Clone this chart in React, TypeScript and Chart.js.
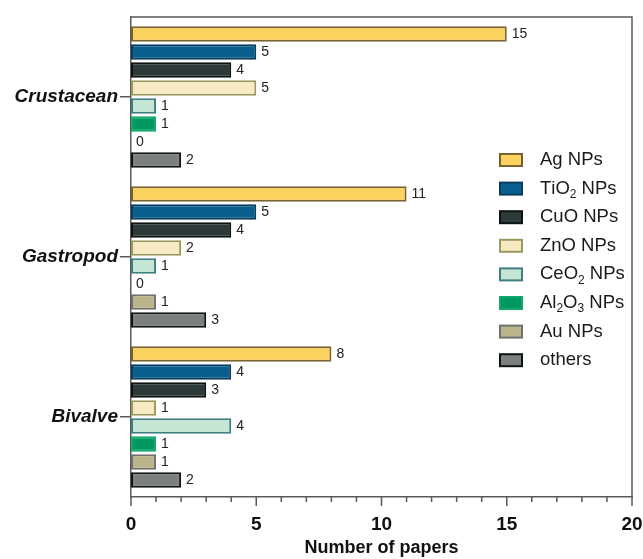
import React, { useEffect, useRef } from 'react';
import { Chart, registerables } from 'chart.js';

Chart.register(...registerables);

const categories = ['Crustacean', 'Gastropod', 'Bivalve'];
const seriesLabels = ['Ag NPs', 'TiO₂ NPs', 'CuO NPs', 'ZnO NPs', 'CeO₂ NPs', 'Al₂O₃ NPs', 'Au NPs', 'others'];

const agNPs = [15, 11, 8];
const tio2NPs = [5, 5, 4];
const cuoNPs = [4, 4, 3];
const znoNPs = [5, 2, 1];
const ceo2NPs = [1, 1, 4];
const al2o3NPs = [1, 0, 1];
const auNPs = [0, 1, 1];
const othersNPs = [2, 3, 2];

const xTickValues = [0, 5, 10, 15, 20];
const axisTitle = 'Number of papers';

const fillColors = ['#FCD25E', '#0B5F8F', '#2D3A3A', '#F7EAC2', '#C6E6D4', '#009862', '#B9B48A', '#7B8081'];
const borderColors = ['#7B6330', '#0A3C5E', '#0E1212', '#9C9A5E', '#3F7E80', '#12A86A', '#707070', '#111414'];

const seriesValues = [agNPs, tio2NPs, cuoNPs, znoNPs, ceo2NPs, al2o3NPs, auNPs, othersNPs];

const FONT = '"Liberation Sans", Arial, Helvetica, sans-serif';
const subMap: Record<string, string> = { '₀': '0', '₁': '1', '₂': '2', '₃': '3', '₄': '4' };

const framePlugin = {
  id: 'frameTicks',
  afterDraw(chart: any) {
    const { ctx, chartArea } = chart;
    const xs = chart.scales.x;
    ctx.save();
    ctx.strokeStyle = '#5a5a5a';
    ctx.lineWidth = 1.5;
    ctx.beginPath();
    ctx.moveTo(chartArea.left, chartArea.top);
    ctx.lineTo(chartArea.right, chartArea.top);
    ctx.lineTo(chartArea.right, chartArea.bottom);
    ctx.stroke();
    for (let v = xs.min; v <= xs.max; v++) {
      const px = xs.getPixelForValue(v);
      const len = xTickValues.includes(v) ? 9 : 5;
      ctx.beginPath();
      ctx.moveTo(px, chartArea.bottom);
      ctx.lineTo(px, chartArea.bottom + len);
      ctx.stroke();
    }
    ctx.restore();
  },
};

const valueLabelPlugin = {
  id: 'valueLabels',
  afterDatasetsDraw(chart: any) {
    const { ctx } = chart;
    ctx.save();
    ctx.font = `14px ${FONT}`;
    ctx.fillStyle = '#222';
    ctx.textBaseline = 'middle';
    ctx.textAlign = 'left';
    chart.data.datasets.forEach((ds: any, i: number) => {
      const meta = chart.getDatasetMeta(i);
      meta.data.forEach((el: any, j: number) => {
        ctx.fillText(String(ds.data[j]), el.x + 5, el.y);
      });
    });
    ctx.restore();
  },
};

const legendPlugin = {
  id: 'customLegend',
  afterDraw(chart: any) {
    const { ctx, chartArea } = chart;
    const boxX = chartArea.left + 369;
    const textX = boxX + 40;
    const startY = 160;
    const step = 28.6;
    ctx.save();
    chart.data.datasets.forEach((ds: any, i: number) => {
      const yc = startY + i * step;
      ctx.fillStyle = ds.backgroundColor;
      ctx.strokeStyle = ds.borderColor;
      ctx.lineWidth = 2;
      ctx.fillRect(boxX, yc - 6, 22, 12);
      ctx.strokeRect(boxX, yc - 6, 22, 12);
      let x = textX;
      ctx.fillStyle = '#1a1a1a';
      ctx.textBaseline = 'middle';
      ctx.textAlign = 'left';
      for (const ch of ds.label as string) {
        if (subMap[ch]) {
          ctx.font = `12px ${FONT}`;
          ctx.fillText(subMap[ch], x, yc + 6);
          x += ctx.measureText(subMap[ch]).width;
        } else {
          ctx.font = `18.5px ${FONT}`;
          ctx.fillText(ch, x, yc);
          x += ctx.measureText(ch).width;
        }
      }
    });
    ctx.restore();
  },
};

export default function App() {
  const ref = useRef<HTMLCanvasElement | null>(null);
  useEffect(() => {
    if (!ref.current) return;
    const chart = new Chart(ref.current, {
      type: 'bar',
      data: {
        labels: categories,
        datasets: seriesLabels.map((label, i) => ({
          label,
          data: seriesValues[i],
          backgroundColor: fillColors[i],
          borderColor: borderColors[i],
          borderWidth: 2,
          borderSkipped: false,
          categoryPercentage: 0.9,
          barPercentage: 0.86,
        })),
      },
      options: {
        indexAxis: 'y',
        animation: false,
        responsive: false,
        maintainAspectRatio: false,
        layout: { padding: { top: 17, right: 11, left: 0, bottom: 0 } },
        plugins: { legend: { display: false }, tooltip: { enabled: false } },
        scales: {
          x: {
            min: 0,
            max: 20,
            afterFit: (s: any) => { s.height = 62; s.paddingLeft = 0; s.paddingRight = 0; },
            grid: { display: false },
            border: { display: true, color: '#5a5a5a', width: 1.5 },
            ticks: {
              stepSize: 5,
              padding: 8,
              color: '#111',
              font: { family: FONT, size: 19, weight: 'bold' },
            },
            title: {
              display: true,
              text: axisTitle,
              color: '#111',
              font: { family: FONT, size: 18, weight: 'bold' },
              padding: { top: 0, bottom: 0 },
            },
          },
          y: {
            offset: true,
            afterFit: (s: any) => { s.width = 131; },
            grid: { display: true, drawOnChartArea: false, drawTicks: true, tickLength: 11, offset: false, color: '#5a5a5a', lineWidth: 1.5 },
            border: { display: true, color: '#5a5a5a', width: 1.5 },
            ticks: {
              padding: 2,
              color: '#111',
              font: { family: FONT, size: 19, weight: 'bold', style: 'italic' },
            },
          },
        },
      },
      plugins: [valueLabelPlugin, framePlugin, legendPlugin],
    } as any);
    return () => chart.destroy();
  }, []);
  return (
    <div style={{ position: 'fixed', left: 0, top: 0, width: 643, height: 559, background: '#fff' }}>
      <canvas ref={ref} width={643} height={559} style={{ width: 643, height: 559 }} />
    </div>
  );
}
